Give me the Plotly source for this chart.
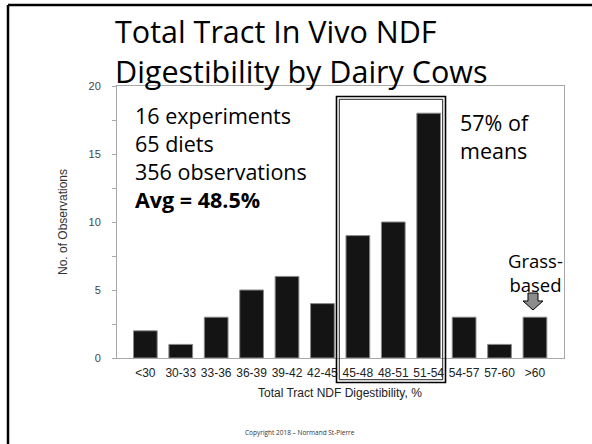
import plotly.graph_objects as go

categories = ["<30", "30-33", "33-36", "36-39", "39-42", "42-45",
              "45-48", "48-51", "51-54", "54-57", "57-60", ">60"]
observations = [2, 1, 3, 5, 6, 4, 9, 10, 18, 3, 1, 3]
y_tick_values = [0, 2.5, 5, 7.5, 10, 12.5, 15, 17.5, 20]
y_tick_labels = ["0", "", "5", "", "10", "", "15", "", "20"]

W, H = 592, 444
L, R, T, B = 117, 564, 86, 358


def px(x):
    return (x - L) / (R - L)


def py(y):
    return (B - y) / (B - T)


HAND = "Open Sans, Noto Sans, sans-serif"
SANS = "Liberation Sans, Arial, sans-serif"

fig = go.Figure()
fig.add_trace(go.Bar(
    x=list(range(len(categories))), y=observations,
    marker=dict(color="#141414", line=dict(color="#8a8a8a", width=1)),
    width=0.67,
))

shapes = []
# slide frame (top and left)
shapes.append(dict(type="line", xref="paper", yref="paper",
                   x0=px(8), x1=px(600), y0=py(5), y1=py(5),
                   line=dict(color="black", width=2.5)))
shapes.append(dict(type="line", xref="paper", yref="paper",
                   x0=px(8), x1=px(8), y0=py(5), y1=py(450),
                   line=dict(color="black", width=2.5)))
# highlight box (double line)
shapes.append(dict(type="rect", xref="paper", yref="paper",
                   x0=px(336.5), x1=px(445.5), y0=py(96.5), y1=py(382.5),
                   line=dict(color="black", width=1.6)))
shapes.append(dict(type="rect", xref="paper", yref="paper",
                   x0=px(339.3), x1=px(442.7), y0=py(99.3), y1=py(379.7),
                   line=dict(color="#222", width=1)))
# grass-based arrow
ax = 533
pts = [(ax - 5, 293), (ax + 5, 293), (ax + 5, 301), (ax + 10, 301),
       (ax, 310), (ax - 10, 301), (ax - 5, 301)]
path = "M " + " L ".join(f"{px(x):.5f},{py(y):.5f}" for x, y in pts) + " Z"
shapes.append(dict(type="path", xref="paper", yref="paper", path=path,
                   fillcolor="#8c8c8c", line=dict(color="black", width=1)))

annotations = []


def text(t, x, y, size, family=HAND, xanchor="left", color="black", angle=0,
         align="left"):
    annotations.append(dict(text=t, x=px(x), y=py(y), xref="paper", yref="paper",
                            xanchor=xanchor, yanchor="middle", showarrow=False,
                            align=align,
                            font=dict(size=size, family=family, color=color),
                            textangle=angle))


text("Total Tract In Vivo NDF<br>Digestibility by Dairy Cows", 113, 51, 30.5)
text("16 experiments<br>65 diets<br>356 observations<br><b>Avg = 48.5%</b>",
     133, 157, 21.5)
text("57% of<br>means", 458, 136, 21.5)
text("Grass-<br>based", 535, 272, 18.5, xanchor="center", align="center")
text("Total Tract NDF Digestibility, %", 340, 393, 12, family=SANS, color="#222",
     xanchor="center")
text("No. of Observations", 63, 222, 12, family=SANS, color="#333",
     xanchor="center", angle=-90)
text("Copyright 2018 – Normand St-Pierre", 300, 432, 6.5, family=HAND,
     color="#333", xanchor="center")

fig.update_layout(
    width=W, height=H,
    margin=dict(l=L, r=W - R, t=T, b=H - B),
    paper_bgcolor="white", plot_bgcolor="white",
    showlegend=False,
    bargap=0.33,
    shapes=shapes,
    annotations=annotations,
    xaxis=dict(
        tickmode="array", tickvals=list(range(len(categories))), ticktext=categories,
        range=[-0.8, 11.82], showline=True, mirror=True, linecolor="#a8a8a8",
        linewidth=1, ticks="", showgrid=False, zeroline=False,
        tickfont=dict(family=SANS, size=12, color="#222"),
        ticklabelstandoff=4,
    ),
    yaxis=dict(
        range=[0, 20], tickmode="array", tickvals=y_tick_values, ticktext=y_tick_labels,
        showline=True, mirror=True, linecolor="#a8a8a8", linewidth=1,
        ticks="outside", ticklen=4, tickcolor="#a8a8a8", showgrid=False, zeroline=False,
        tickfont=dict(family=SANS, size=11, color="#444"),
        ticklabelstandoff=9,
    ),
)

fig.write_html("out.html",
               config={"displayModeBar": False},
               post_script="document.body.style.margin='0';"
                           "document.body.style.overflow='hidden';")
